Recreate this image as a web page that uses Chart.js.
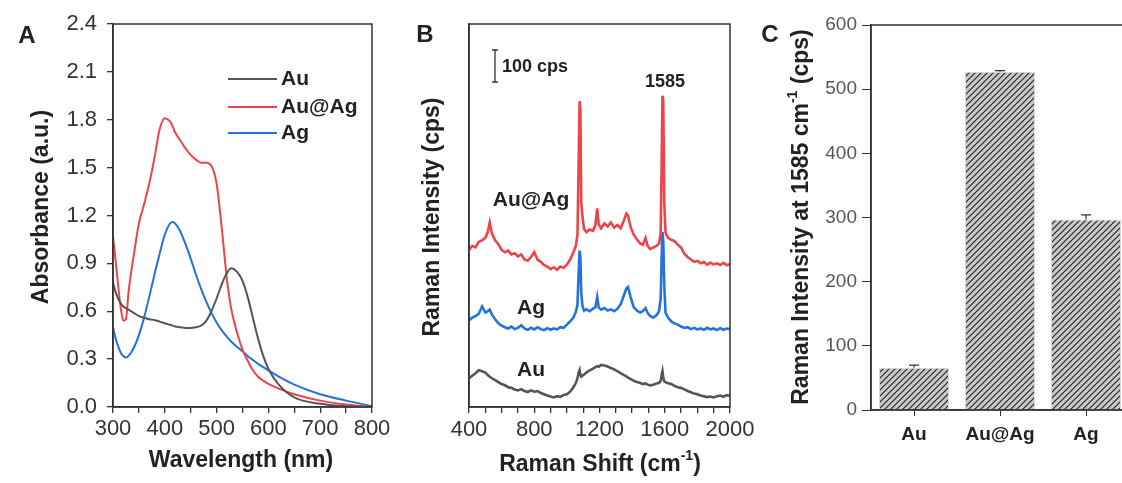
<!DOCTYPE html>
<html>
<head>
<meta charset="utf-8">
<script src="https://cdn.jsdelivr.net/npm/chart.js@4.4.1/dist/chart.umd.min.js"></script>
<style>
html, body { margin: 0; padding: 0; background: #fff; overflow: hidden; width: 1122px; height: 483px; }
canvas { position: absolute; top: 0; }
</style>
</head>
<body>
<canvas id="chartA" width="400" height="483" style="left:0px"></canvas>
<canvas id="chartB" width="390" height="483" style="left:380px"></canvas>
<canvas id="chartC" width="380" height="483" style="left:760px"></canvas>
<script>
// ---- panel A: UV-vis absorbance ----
var wavelength = [300,305,310,315,320,325,330,340,350,360,370,380,390,400,410,415,420,430,440,450,
  460,470,480,490,500,510,520,528,540,550,560,570,580,590,600,620,650,700,750,800];
var absAu = [0.78,0.72,0.68,0.65,0.63,0.62,0.61,0.59,0.57,0.56,0.55,0.545,0.535,0.525,0.515,0.51,0.505,0.50,0.495,0.495,
  0.50,0.51,0.54,0.60,0.68,0.77,0.84,0.87,0.845,0.79,0.69,0.56,0.43,0.32,0.24,0.14,0.06,0.02,0.005,0];
var absAuAg = [1.07,0.92,0.76,0.62,0.54,0.55,0.72,0.95,1.15,1.27,1.40,1.56,1.74,1.81,1.79,1.76,1.72,1.67,1.62,1.58,
  1.55,1.53,1.53,1.51,1.40,1.12,0.80,0.62,0.46,0.36,0.29,0.23,0.19,0.165,0.145,0.115,0.08,0.04,0.015,0];
var absAg = [0.50,0.43,0.38,0.34,0.32,0.31,0.32,0.37,0.45,0.56,0.69,0.83,0.96,1.08,1.15,1.16,1.15,1.10,1.02,0.93,
  0.83,0.74,0.66,0.59,0.53,0.48,0.44,0.41,0.375,0.35,0.32,0.295,0.27,0.25,0.23,0.19,0.14,0.08,0.04,0.005];

// ---- panel B: Raman spectra (offset, cps) ----
var ramanShift = [400,420,440,460,480,500,515,527,540,560,580,600,620,640,660,680,700,720,740,760,
  780,800,820,840,860,880,900,920,940,960,980,1000,1020,1040,1055,1065,1072,1078,1083,1088,
  1095,1105,1120,1140,1160,1175,1186,1195,1210,1230,1250,1270,1290,1310,1330,1350,1365,1375,1390,1410,
  1430,1450,1465,1482,1495,1510,1530,1550,1565,1575,1581,1586,1591,1597,1605,1620,1640,1660,1680,1700,
  1720,1740,1760,1780,1800,1820,1840,1860,1880,1900,1920,1940,1960,1980,2000];
var ramanAuAg = [492,505,500,518,522,530,548,578,545,522,510,492,485,490,478,482,472,478,462,458,
  470,485,462,455,445,440,432,438,430,440,436,446,462,485,505,540,760,958,930,640,
  600,558,548,556,552,570,622,572,560,575,566,578,562,570,560,585,606,600,565,540,
  525,512,508,530,505,495,500,505,512,545,760,975,960,640,545,530,524,520,508,500,
  480,470,462,455,458,450,454,446,452,447,450,445,452,444,448];
var ramanAg = [272,280,285,292,315,296,300,305,290,275,262,255,250,246,252,244,248,256,246,242,
  248,243,250,244,241,247,242,246,243,250,248,258,268,280,298,320,420,490,470,360,
  318,302,306,300,308,312,345,312,305,310,302,306,300,308,322,350,372,376,345,312,
  302,296,300,310,295,285,280,288,300,340,470,548,520,380,295,280,268,262,258,252,
  248,250,244,248,243,246,242,248,243,246,241,247,242,246,244];
var ramanAu = [90,98,106,115,112,108,100,95,90,84,78,72,68,62,60,55,52,56,50,47,
  52,48,50,44,40,36,33,30,34,32,38,40,48,62,75,90,108,116,100,95,
  98,102,108,115,120,125,128,126,132,130,127,122,118,112,106,100,96,92,88,82,
  78,75,72,74,70,68,70,74,76,82,100,112,92,80,78,74,72,66,62,60,
  55,50,46,42,40,36,34,31,33,30,34,36,32,37,35];

// ---- panel C: intensity at 1585 cm-1 ----
var samples = ['Au', 'Au@Ag', 'Ag'];
var peakIntensity = [66, 527, 297];
var peakError = [4, 2, 7];

var FONT = "'Liberation Sans', Arial, sans-serif";
var grayC = '#555555', redC = '#ee4448', blueC = '#2472dd';

function fixAxis(w, h) {
  return function (s) {
    if (w != null) s.width = w;
    if (h != null) s.height = h;
    s.paddingLeft = 0; s.paddingRight = 0; s.paddingTop = 0; s.paddingBottom = 0;
  };
}

function drawRich(ctx, it) {
  var size = it.size || 20, weight = it.weight || 'bold';
  var parts = it.parts || [{ t: it.text }];
  ctx.save();
  ctx.translate(it.x, it.y);
  if (it.rot) ctx.rotate(it.rot);
  ctx.fillStyle = it.color || '#222';
  ctx.textBaseline = 'middle';
  ctx.textAlign = 'left';
  var total = 0;
  parts.forEach(function (p) {
    ctx.font = weight + ' ' + (p.sup ? Math.round(size * 0.6) : size) + 'px ' + FONT;
    p.w = ctx.measureText(p.t).width;
    total += p.w;
  });
  var x = it.align === 'left' ? 0 : (it.align === 'right' ? -total : -total / 2);
  parts.forEach(function (p) {
    ctx.font = weight + ' ' + (p.sup ? Math.round(size * 0.6) : size) + 'px ' + FONT;
    ctx.fillText(p.t, x, p.sup ? -size * 0.38 : 0);
    x += p.w;
  });
  ctx.restore();
}

var decor = {
  id: 'decor',
  afterDraw: function (chart, args, opts) {
    var ctx = chart.ctx, a = chart.chartArea;
    if (opts.frame) {
      ctx.save();
      ctx.strokeStyle = '#333';
      ctx.lineWidth = 1.5;
      ctx.strokeRect(a.left, a.top, a.right - a.left, a.bottom - a.top);
      ctx.restore();
    }
    (opts.texts || []).forEach(function (t) { drawRich(ctx, t); });
    if (opts.legend) {
      var L = opts.legend;
      chart.data.datasets.forEach(function (ds, i) {
        ctx.save();
        ctx.strokeStyle = ds.borderColor;
        ctx.lineWidth = 2;
        ctx.beginPath();
        ctx.moveTo(L.x0, L.ys[i]);
        ctx.lineTo(L.x1, L.ys[i]);
        ctx.stroke();
        ctx.restore();
        drawRich(ctx, { text: ds.label, x: L.tx, y: L.ys[i], size: 21, align: 'left' });
      });
    }
    if (opts.scaleBar) {
      var b = opts.scaleBar;
      ctx.save();
      ctx.strokeStyle = '#333';
      ctx.lineWidth = 1.3;
      ctx.beginPath();
      ctx.moveTo(b.x, b.y0); ctx.lineTo(b.x, b.y1);
      ctx.moveTo(b.x - 3, b.y0); ctx.lineTo(b.x + 3, b.y0);
      ctx.moveTo(b.x - 3, b.y1); ctx.lineTo(b.x + 3, b.y1);
      ctx.stroke();
      ctx.restore();
    }
  }
};

var errorBars = {
  id: 'errorBars',
  afterDatasetsDraw: function (chart, args, opts) {
    var ctx = chart.ctx, ys = chart.scales.y;
    var meta = chart.getDatasetMeta(0);
    var vals = chart.data.datasets[0].data;
    ctx.save();
    ctx.strokeStyle = '#333';
    ctx.lineWidth = 1.2;
    meta.data.forEach(function (bar, i) {
      var top = ys.getPixelForValue(vals[i] + opts.errors[i]);
      ctx.beginPath();
      ctx.moveTo(bar.x, bar.y);
      ctx.lineTo(bar.x, top);
      ctx.moveTo(bar.x - 5, top);
      ctx.lineTo(bar.x + 5, top);
      ctx.stroke();
    });
    ctx.restore();
  }
};

function linePts(xs, ys) {
  return xs.map(function (x, i) { return { x: x, y: ys[i] }; });
}

var tickFont = { family: FONT, size: 22 };
var axisGrid = { drawOnChartArea: false, drawTicks: true, tickLength: 6, color: '#333', tickColor: '#333', lineWidth: 1.3 };
var axisBorder = { display: true, color: '#333', width: 1.5 };

// ---- Chart A ----
new Chart(document.getElementById('chartA'), {
  type: 'line',
  data: {
    datasets: [
      { label: 'Au', data: linePts(wavelength, absAu), borderColor: grayC },
      { label: 'Au@Ag', data: linePts(wavelength, absAuAg), borderColor: redC },
      { label: 'Ag', data: linePts(wavelength, absAg), borderColor: blueC }
    ]
  },
  options: {
    responsive: false, animation: false, devicePixelRatio: 1,
    layout: { padding: { top: 24, right: 28, left: 0, bottom: 0 } },
    elements: { point: { radius: 0 }, line: { borderWidth: 2, cubicInterpolationMode: 'monotone' } },
    plugins: {
      legend: { display: false }, tooltip: { enabled: false },
      decor: {
        frame: true,
        legend: { x0: 228, x1: 277, tx: 281, ys: [79, 107, 133] },
        texts: [
          { text: 'A', x: 27, y: 36, size: 24 },
          { text: 'Absorbance (a.u.)', x: 42, y: 207, size: 23, rot: -Math.PI / 2 },
          { text: 'Wavelength (nm)', x: 241, y: 461, size: 23 }
        ]
      }
    },
    scales: {
      x: {
        type: 'linear', min: 300, max: 800,
        afterFit: fixAxis(null, 76),
        grid: axisGrid, border: axisBorder,
        ticks: { stepSize: 50, autoSkip: false, maxRotation: 0, color: '#333', font: tickFont, padding: 3,
          callback: function (v) { return v % 100 === 0 ? v : ''; } }
      },
      y: {
        min: 0, max: 2.4,
        afterFit: fixAxis(113, null),
        grid: axisGrid, border: axisBorder,
        ticks: { stepSize: 0.3, color: '#333', font: tickFont, padding: 10,
          callback: function (v) { return v.toFixed(1); } }
      }
    }
  },
  plugins: [decor]
});

// ---- Chart B ----
new Chart(document.getElementById('chartB'), {
  type: 'line',
  data: {
    datasets: [
      { label: 'Au@Ag', data: linePts(ramanShift, ramanAuAg), borderColor: redC },
      { label: 'Ag', data: linePts(ramanShift, ramanAg), borderColor: blueC },
      { label: 'Au', data: linePts(ramanShift, ramanAu), borderColor: grayC }
    ]
  },
  options: {
    responsive: false, animation: false, devicePixelRatio: 1,
    layout: { padding: { top: 24, right: 40, left: 0, bottom: 0 } },
    elements: { point: { radius: 0 }, line: { borderWidth: 2.6, tension: 0 } },
    plugins: {
      legend: { display: false }, tooltip: { enabled: false },
      decor: {
        frame: true,
        scaleBar: { x: 115, y0: 50, y1: 82 },
        texts: [
          { text: 'B', x: 45, y: 35, size: 24 },
          { text: '100 cps', x: 122, y: 67, size: 18, align: 'left' },
          { text: '1585', x: 285, y: 82, size: 18 },
          { text: 'Au@Ag', x: 151, y: 200, size: 21 },
          { text: 'Ag', x: 151, y: 308, size: 21 },
          { text: 'Au', x: 151, y: 370, size: 21 },
          { text: 'Raman Intensity (cps)', x: 53, y: 217, size: 23, rot: -Math.PI / 2 },
          { parts: [{ t: 'Raman Shift (cm' }, { t: '-1', sup: true }, { t: ')' }], x: 220, y: 465, size: 23 }
        ]
      }
    },
    scales: {
      x: {
        type: 'linear', min: 400, max: 2000,
        afterFit: fixAxis(null, 76),
        grid: axisGrid, border: axisBorder,
        ticks: { stepSize: 100, autoSkip: false, maxRotation: 0, color: '#333', font: tickFont, padding: 4,
          callback: function (v) { return v % 400 === 0 ? v : ''; } }
      },
      y: {
        min: 0, max: 1200,
        afterFit: fixAxis(89, null),
        grid: { display: false }, border: axisBorder,
        ticks: { display: false }
      }
    }
  },
  plugins: [decor]
});

// ---- Chart C ----
var tile = document.createElement('canvas');
tile.width = 6; tile.height = 6;
var tc = tile.getContext('2d');
tc.fillStyle = '#c8c8c8';
tc.fillRect(0, 0, 6, 6);
tc.strokeStyle = '#222';
tc.lineWidth = 1.1;
tc.beginPath();
tc.moveTo(0, 6); tc.lineTo(6, 0);
tc.moveTo(-1, 1); tc.lineTo(1, -1);
tc.moveTo(5, 7); tc.lineTo(7, 5);
tc.stroke();
var hatch = tc.createPattern(tile, 'repeat');

new Chart(document.getElementById('chartC'), {
  type: 'bar',
  data: {
    labels: samples,
    datasets: [{ label: 'Raman Intensity', data: peakIntensity, backgroundColor: hatch,
      borderColor: '#dadada', borderWidth: 1, barPercentage: 0.814, categoryPercentage: 1 }]
  },
  options: {
    responsive: false, animation: false, devicePixelRatio: 1,
    layout: { padding: { top: 25, right: 11, left: 0, bottom: 0 } },
    plugins: {
      legend: { display: false }, tooltip: { enabled: false },
      errorBars: { errors: peakError },
      decor: {
        frame: true,
        texts: [
          { text: 'C', x: 10, y: 35, size: 24 },
          { parts: [{ t: 'Raman Intensity at 1585 cm' }, { t: '-1', sup: true }, { t: ' (cps)' }],
            x: 42, y: 217, size: 23, rot: -Math.PI / 2 }
        ]
      }
    },
    scales: {
      x: {
        afterFit: fixAxis(null, 73),
        grid: { drawOnChartArea: false, drawTicks: true, tickLength: 6, offset: false, color: '#333', tickColor: '#333' },
        border: axisBorder,
        ticks: { color: '#222', font: { family: FONT, size: 19, weight: 'bold' }, padding: 7 }
      },
      y: {
        min: 0, max: 600,
        afterFit: fixAxis(111, null),
        grid: { drawOnChartArea: false, drawTicks: true, tickLength: 9, color: '#333', tickColor: '#333' },
        border: axisBorder,
        ticks: { stepSize: 100, color: '#555', font: { family: FONT, size: 19 }, padding: 5 }
      }
    }
  },
  plugins: [errorBars, decor]
});
</script>
</body>
</html>
